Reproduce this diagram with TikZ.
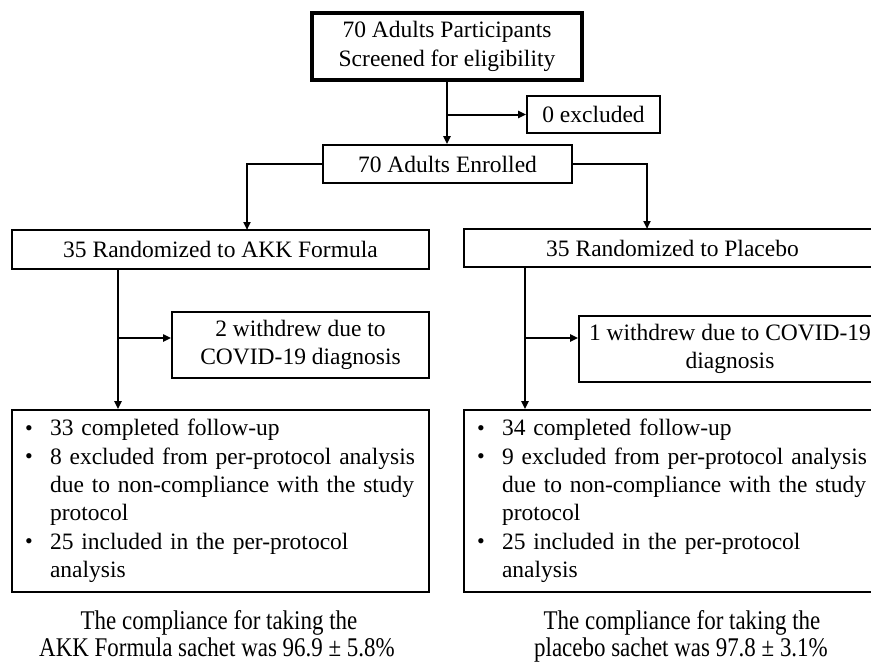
\documentclass[tikz,border=0pt]{standalone}
\usepackage{fontspec}
\setmainfont{Liberation Serif}
\newfontfamily\condfont[FakeStretch=0.85]{Liberation Serif}
\usetikzlibrary{arrows.meta}
\tikzset{
  box/.style={draw=black, line width=1.8pt, rectangle, inner sep=0pt, align=center,
    font=\fontsize{23.5}{28.3}\selectfont},
  conn/.style={draw=black, line width=2pt, -{Triangle[length=8pt,width=7pt]}},
  listbox/.style={box, align=left, text width=391pt, inner xsep=13pt, minimum height=182pt},
  capline/.style={anchor=base, inner sep=0pt, font=\condfont\fontsize{27}{28}\selectfont}
}
\newcommand{\bul}{\makebox[25pt][l]{\raisebox{0.5pt}{\fontsize{22}{22}\selectfont\textbullet}}}
\newcommand{\ind}{\hspace*{25pt}}
\begin{document}
\begin{tikzpicture}[x=1pt,y=-1pt]
\useasboundingbox (0,0) rectangle (871,662);
\clip (0,0) rectangle (871,662);
% boxes
\node[box, line width=3.4pt, minimum width=270pt, minimum height=67pt] (top) at (447,46.5)
  {70 Adults Participants\\Screened for eligibility};
\node[box, minimum width=133pt, minimum height=37pt] (excl) at (593.5,114.5) {0 excluded};
\node[box, minimum width=249pt, minimum height=38pt] (enr) at (447.5,164) {70 Adults Enrolled};
\node[box, minimum width=417pt, minimum height=39pt] (akk) at (220.5,249.5) {35 Randomized to AKK Formula};
\node[box, minimum width=417pt, minimum height=38pt] (plac) at (672.5,248) {35 Randomized to Placebo};
\node[box, minimum width=257pt, minimum height=66pt] (wd2) at (300.5,345) {2 withdrew due to\\COVID-19 diagnosis};
\node[box, minimum width=302pt, minimum height=66pt] (wd1) at (730,349) {1 withdrew due to COVID-19\\diagnosis};
\node[listbox] (lbot) at (220.5,501) {%
\bul 33 completed follow-up\\
\bul 8 excluded from per-protocol analysis\\
\ind due to non-compliance with the study\\
\ind protocol\\
\bul 25 included in the per-protocol\\
\ind analysis};
\node[listbox] (rbot) at (672.5,501) {%
\bul 34 completed follow-up\\
\bul 9 excluded from per-protocol analysis\\
\ind due to non-compliance with the study\\
\ind protocol\\
\bul 25 included in the per-protocol\\
\ind analysis};
% captions (condensed, as in the reference)
\node[capline] (lcap1) at (219,629) {The compliance for taking the};
\node[capline] (lcap2) at (217,656) {AKK Formula sachet was 96.9 ± 5.8\%};
\node[capline] (rcap1) at (682,629) {The compliance for taking the};
\node[capline] (rcap2) at (681,656) {placebo sachet was 97.8 ± 3.1\%};
% helper coordinates
\coordinate (akkin) at (247,230);
\coordinate (placin) at (647,229);
\coordinate (lx) at (118,0);
\coordinate (rx) at (525,0);
\coordinate (lbr) at (118,338);
\coordinate (rbr) at (525,338);
% connectors
\draw[conn] (top.south) -- (top.south |- enr.north);
\draw[conn] (top.south |- excl.west) -- (excl.west);
\draw[conn] (enr.west) -| (akkin);
\draw[conn] (enr.east) -| (placin);
\draw[conn] (akk.south -| lx) -- (lbot.north -| lx);
\draw[conn] (lbr) -- (lbr -| wd2.west);
\draw[conn] (plac.south -| rx) -- (rbot.north -| rx);
\draw[conn] (rbr) -- (rbr -| wd1.west);
\end{tikzpicture}
\end{document}
